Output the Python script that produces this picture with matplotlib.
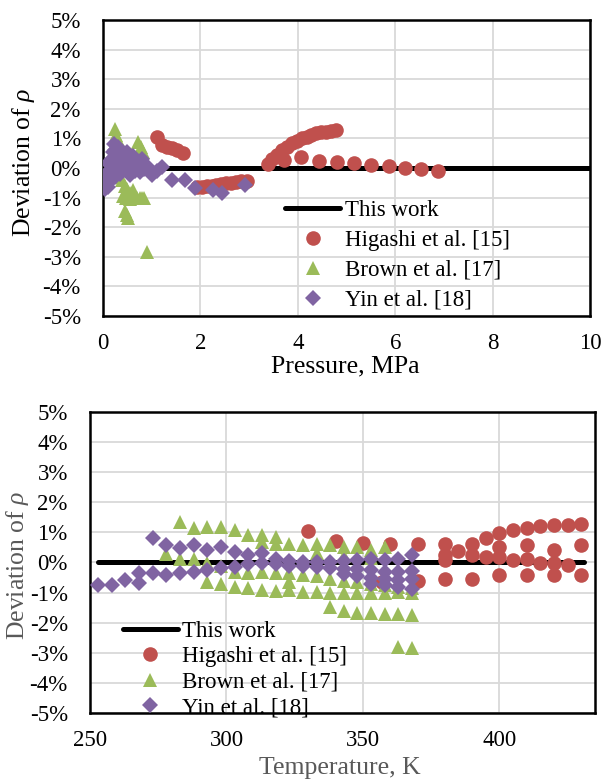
import numpy as np
import matplotlib
matplotlib.use('Agg')
import matplotlib.pyplot as plt
from matplotlib.ticker import FuncFormatter

plt.rcParams['font.family'] = ['Liberation Serif', 'DejaVu Serif']
plt.rcParams['mathtext.fontset'] = 'custom'
plt.rcParams['mathtext.rm'] = 'Liberation Serif'
plt.rcParams['mathtext.it'] = 'Liberation Serif:italic'

red = '#C0504D'
green = '#9BBB59'
purple = '#8064A2'
grey_txt = '#595959'

# ---- data: deviation (%) vs pressure (MPa) ----
work_p = [0.05, 10.0]
work_dp = [0.0, 0.0]

higashi_p = [1.11, 1.21, 1.31, 1.42, 1.52, 1.64,
             1.93, 2.03, 2.13, 2.23, 2.33, 2.43, 2.53, 2.63, 2.73, 2.83, 2.96,
             3.38, 3.48, 3.58, 3.68, 3.78, 3.88, 3.98, 4.08, 4.18, 4.28, 4.38, 4.48, 4.58, 4.68, 4.78,
             3.72, 4.07, 4.43, 4.80, 5.15, 5.50, 5.87, 6.20, 6.53, 6.88]
higashi_dp = [1.05, 0.78, 0.71, 0.68, 0.61, 0.51,
              -0.65, -0.63, -0.62, -0.60, -0.58, -0.55, -0.52, -0.50, -0.47, -0.45, -0.45,
              0.12, 0.30, 0.45, 0.60, 0.72, 0.83, 0.92, 1.00, 1.06, 1.12, 1.17, 1.20, 1.23, 1.25, 1.27,
              0.27, 0.37, 0.24, 0.20, 0.17, 0.10, 0.07, 0.00, -0.03, -0.10]

brown_p = [0.25, 0.27, 0.30, 0.22, 0.35, 0.72, 0.78, 0.82, 0.60, 0.15, 0.30, 0.40,
           0.45, 0.50, 0.55, 0.60, 0.65, 0.70, 0.75, 0.80, 0.85, 0.42, 0.48, 0.55,
           0.62, 0.45, 0.49, 0.52, 0.90, 0.20, 0.50, 0.65]
brown_dp = [1.30, 1.10, 0.95, 0.50, 0.20, 0.88, 0.70, 0.55, 0.30, -0.10, -0.30, -0.40,
            -0.60, -0.70, -0.85, -0.90, -0.95, -1.00, -1.00, -1.00, -1.00, -0.95, -1.00, -1.05,
            -0.75, -1.45, -1.60, -1.70, -2.85, 0.05, 0.10, 0.05]

yin_p = [0.05, 0.08, 0.10, 0.12, 0.15, 0.18, 0.20, 0.22, 0.25, 0.28, 0.30, 0.32, 0.35,
         0.38, 0.40, 0.45, 0.50, 0.50, 0.55, 0.60, 0.62, 0.65, 0.70, 0.75, 0.80, 0.85,
         0.90, 0.10, 0.12, 0.15, 0.07, 0.25, 0.30, 0.45, 0.55,
         1.00, 1.10, 1.21, 1.42, 1.68, 1.89, 2.26, 2.44, 2.92]
yin_dp = [-0.70, -0.55, -0.30, -0.10, 0.10, 0.30, 0.55, 0.80, 0.60, 0.40, 0.20, 0.00, -0.20,
          0.50, 0.30, 0.10, 0.55, -0.10, 0.30, 0.00, 0.40, -0.10, 0.20, -0.15, 0.30, -0.05,
          0.05, -0.65, 0.20, -0.45, -0.20, -0.30, 0.70, 0.45, -0.25,
          -0.24, -0.10, 0.03, -0.40, -0.40, -0.67, -0.74, -0.84, -0.57]

# ---- data: deviation (%) vs temperature (K) ----
work_t = [253.0, 431.0]
work_dt = [0.0, 0.0]

higashi_t = [330, 340, 350, 360, 370, 370, 357,
             380, 380, 380, 380, 385, 390, 390, 390, 395, 395,
             400, 400, 400, 400, 405, 405, 410, 410, 410, 410, 415, 415,
             420, 420, 420, 420, 425, 425, 430, 430, 430]
higashi_dt = [1.05, 0.70, 0.65, 0.63, 0.62, -0.62, -0.65,
              0.62, 0.25, 0.08, -0.54, 0.38, 0.63, 0.25, -0.55, 0.80, 0.18,
              0.97, 0.50, 0.17, -0.42, 1.07, 0.08, 1.15, 0.57, 0.12, -0.42, 1.21, -0.02,
              1.25, 0.43, -0.02, -0.42, 1.26, -0.09, 1.29, 0.57, -0.43]

brown_t = [283, 288, 293, 298, 303, 308, 313, 318,
           313, 318, 323, 328, 333, 338, 343, 348, 353, 358,
           278, 283, 288, 293, 298, 303, 308, 313, 318, 323, 328, 333, 338, 343, 348, 353, 358, 363, 368,
           323, 333, 343, 353,
           293, 298, 303, 308, 313, 318, 323, 328, 333, 338, 343, 348, 353, 358, 363, 368,
           338, 343, 348, 353, 358, 363, 368,
           363, 368]
brown_dt = [1.35, 1.13, 1.17, 1.17, 1.07, 0.92, 0.90, 0.85,
            0.68, 0.62, 0.60, 0.58, 0.63, 0.58, 0.50, 0.52, 0.42, 0.52,
            0.28, 0.13, 0.10, -0.03, -0.10, -0.30, -0.35, -0.30, -0.35, -0.35, -0.40, -0.45, -0.55,
            -0.60, -0.65, -0.70, -0.75, -0.80, -0.85,
            -0.64, 0.30, 0.20, 0.15,
            -0.65, -0.72, -0.80, -0.85, -0.90, -0.95, -0.92, -0.97, -0.97, -1.00, -1.00, -1.00,
            -1.00, -1.00, -0.98, -1.02,
            -1.47, -1.62, -1.68, -1.68, -1.70, -1.70, -1.75,
            -2.80, -2.85]

yin_t = [273, 278, 283, 288, 293, 298, 303, 308, 313, 318, 323, 328, 333, 338, 343, 348,
         353, 358, 363, 368,
         253, 258, 263, 268, 268, 273, 278, 283, 288, 293, 298, 303, 308, 313, 318, 323,
         328, 333, 338, 343, 348, 353, 358, 363, 368,
         343, 348, 353, 358, 363, 368,
         353, 358, 363, 368]
yin_dt = [0.80, 0.58, 0.48, 0.58, 0.42, 0.52, 0.35, 0.25, 0.30, 0.10, 0.05, 0.02, 0.00, 0.03,
          0.05, 0.08, 0.10, 0.08, 0.12, 0.25,
          -0.75, -0.75, -0.58, -0.35, -0.68, -0.35, -0.42, -0.35, -0.32, -0.25, -0.18, -0.15,
          -0.05, -0.03, -0.05, -0.10, -0.12, -0.15, -0.18, -0.20, -0.22, -0.25, -0.30, -0.30,
          -0.28,
          -0.38, -0.45, -0.50, -0.55, -0.58, -0.55,
          -0.70, -0.75, -0.82, -0.88]

y_ticks = [-5, -4, -3, -2, -1, 0, 1, 2, 3, 4, 5]
p_ticks = [0, 2, 4, 6, 8, 10]
t_ticks = [250, 300, 350, 400]

fs = 16.5

fig = plt.figure(figsize=(6.06, 7.80), dpi=100)
ax1 = fig.add_axes([0.170, 0.5949, 0.8036, 0.3795])
ax2 = fig.add_axes([0.1485, 0.0859, 0.8333, 0.3859])


def draw(ax, x_work, y_work, xh, yh, xb, yb, xy, yy):
    ax.plot(x_work, y_work, color='black', lw=3.6, solid_capstyle='round',
            label='This work', zorder=2)
    ax.plot(xh, yh, 'o', color=red, ms=10.5, mew=0, label='Higashi et al. [15]', zorder=3)
    ax.plot(xb, yb, '^', color=green, ms=10.5, mew=0, label='Brown et al. [17]', zorder=4)
    ax.plot(xy, yy, 'D', color=purple, ms=8.5, mew=0, label='Yin et al. [18]', zorder=5)
    ax.set_ylim(-5, 5)
    ax.set_yticks(y_ticks)
    ax.yaxis.set_major_formatter(FuncFormatter(lambda v, pos: '%d%%' % v))
    ax.grid(True, color='#D9D9D9', lw=1.3)
    ax.set_axisbelow(True)
    ax.tick_params(length=0, labelsize=fs)
    ax.tick_params(axis='y', pad=16)
    ax.tick_params(axis='x', pad=12)
    for s in ax.spines.values():
        s.set_linewidth(1.8)


draw(ax1, work_p, work_dp, higashi_p, higashi_dp, brown_p, brown_dp, yin_p, yin_dp)
ax1.set_xlim(0, 10)
ax1.set_xticks(p_ticks)
ax1.set_xlabel('Pressure, MPa', fontsize=18.5, va='center')
ax1.xaxis.set_label_coords(0.497, -0.172)
ax1.set_ylabel('Deviation of $\\rho$', fontsize=18.5, va='center')
ax1.yaxis.set_label_coords(-0.164, 0.52)
ax1.legend(loc='upper left', bbox_to_anchor=(0.374, 0.392), frameon=False,
           fontsize=fs, handlelength=2.4, handletextpad=0.2, labelspacing=0.39,
           borderpad=0, borderaxespad=0, numpoints=1)

draw(ax2, work_t, work_dt, higashi_t, higashi_dt, brown_t, brown_dt, yin_t, yin_dt)
ax2.set_xlim(250, 435)
ax2.set_xticks(t_ticks)
ax2.set_xlabel('Temperature, K', fontsize=18.5, color=grey_txt, va='center')
ax2.xaxis.set_label_coords(0.495, -0.183)
ax2.set_ylabel('Deviation of $\\rho$', fontsize=18.5, color=grey_txt, va='center')
ax2.yaxis.set_label_coords(-0.143, 0.49)
ax2.legend(loc='upper left', bbox_to_anchor=(0.065, 0.306), frameon=False,
           fontsize=fs, handlelength=2.4, handletextpad=0.2, labelspacing=0.19,
           borderpad=0, borderaxespad=0, numpoints=1)

fig.savefig('out.png', dpi=100)
